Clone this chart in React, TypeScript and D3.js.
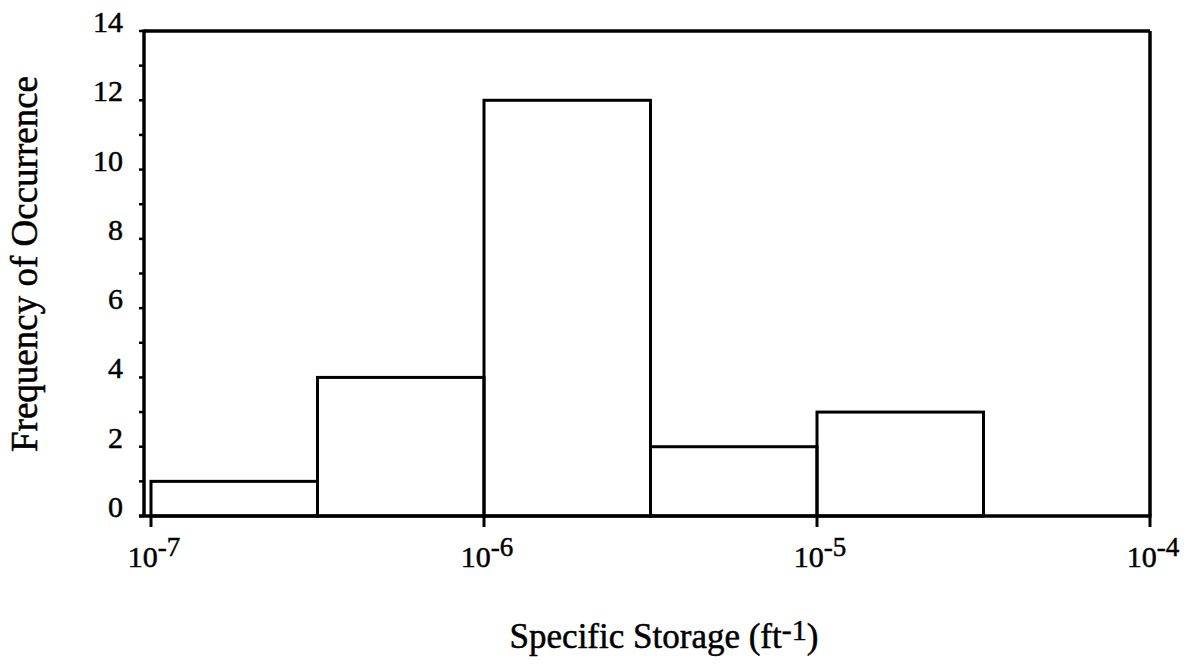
import React from "react";
import * as d3 from "d3";

const binEdges: number[] = [1e-7, 10 ** -6.5, 1e-6, 10 ** -5.5, 1e-5, 10 ** -4.5];
const binCounts: number[] = [1, 4, 12, 2, 3];
const xTickExponents: number[] = [-7, -6, -5, -4];
const yTicks: number[] = [0, 2, 4, 6, 8, 10, 12, 14];
const yMinorTicks: number[] = d3.range(0, 15, 1);

const W = 1193;
const H = 669;
const FONT = "'Liberation Serif', 'Times New Roman', serif";

export default function App() {
  const x = d3.scaleLog().domain([1e-7, 1e-4]).range([151, 1150]);
  const y = d3.scaleLinear().domain([0, 14]).range([516, 31]);
  const frameLeft = 144;
  const frameRight = 1150;

  const bars = binCounts.map((c, i) => ({
    x0: x(binEdges[i]),
    x1: x(binEdges[i + 1]),
    c,
  }));

  const textStyle = { stroke: "#000", strokeWidth: 0.5 };

  return (
    <svg
      width={W}
      height={H}
      style={{ position: "absolute", left: 0, top: 0, background: "#fff" }}
      fontFamily={FONT}
    >
      <rect width={W} height={H} fill="#fff" />
      {/* bars */}
      {bars.map((b, i) => (
        <rect
          key={i}
          x={b.x0}
          y={y(b.c)}
          width={b.x1 - b.x0}
          height={y(0) - y(b.c)}
          fill="none"
          stroke="#000"
          strokeWidth={3}
        />
      ))}
      {/* frame */}
      <line x1={frameLeft} x2={frameRight} y1={y(14)} y2={y(14)} stroke="#000" strokeWidth={3.5} />
      <line x1={frameRight} x2={frameRight} y1={y(14)} y2={y(0)} stroke="#000" strokeWidth={3.5} />
      <line x1={frameLeft} x2={frameLeft} y1={y(14) - 1.5} y2={y(0)} stroke="#000" strokeWidth={3.5} />
      <line x1={frameLeft - 5} x2={frameRight + 1.5} y1={y(0)} y2={y(0)} stroke="#000" strokeWidth={3.5} />
      {/* y minor/major ticks */}
      {yMinorTicks.map((t) => (
        <line key={t} x1={frameLeft - 5} x2={frameLeft} y1={y(t)} y2={y(t)} stroke="#000" strokeWidth={2.5} />
      ))}
      {yTicks.map((t) => (
        <text key={t} x={123} y={y(t) + 1} textAnchor="end" fontSize={30} fill="#000" style={textStyle}>
          {t}
        </text>
      ))}
      {/* x ticks */}
      {xTickExponents.map((e) => {
        const px = x(10 ** e);
        return (
          <g key={e}>
            <line x1={px} x2={px} y1={y(0)} y2={y(0) + 11} stroke="#000" strokeWidth={3} />
            <text x={px + 3} y={567} textAnchor="middle" fontSize={30} fill="#000" style={textStyle}>
              10
              <tspan fontSize={27} dy={-11}>
                {String(e)}
              </tspan>
            </text>
          </g>
        );
      })}
      {/* axis titles */}
      <text x={664} y={648} textAnchor="middle" fontSize={35} fill="#000" style={textStyle}>
        Specific Storage (ft
        <tspan fontSize={30} dy={-8}>-1</tspan>
        <tspan dy={8}>)</tspan>
      </text>
      <text
        transform={`translate(37, 264) rotate(-90)`}
        textAnchor="middle"
        fontSize={37}
        fill="#000"
        style={textStyle}
      >
        Frequency of Occurrence
      </text>
    </svg>
  );
}
